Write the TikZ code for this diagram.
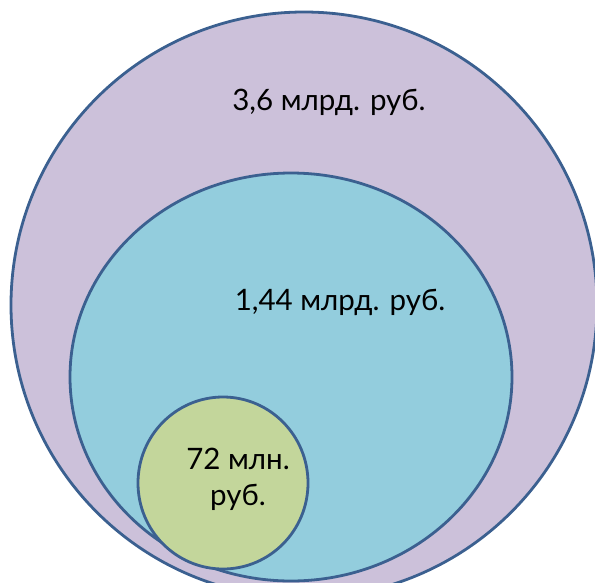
\documentclass[tikz,border=0pt]{standalone}
\usepackage{fontspec}
\setmainfont{Lato}
\usetikzlibrary{shapes.geometric}
\definecolor{outerfill}{HTML}{CCC1DA}
\definecolor{midfill}{HTML}{93CDDD}
\definecolor{innerfill}{HTML}{C3D69B}
\definecolor{rim}{HTML}{3B6090}
\tikzset{
  blob/.style={ellipse, draw=rim, line width=2.8pt, inner sep=0pt, outer sep=0pt},
  sum/.style={font=\fontsize{29.5}{36}\selectfont, text=black, inner sep=0pt, align=center}
}
\begin{document}
\begin{tikzpicture}[x=1pt,y=-1pt]
  \fill[white] (0,0) rectangle (595,582);
  \useasboundingbox (0,0) rectangle (595,582);
  \clip (0,0) rectangle (595,582);
  % nested sums
  \node[blob, fill=outerfill, minimum width=586pt, minimum height=586pt] (outer) at (304,305) {};
  \node[blob, fill=midfill, minimum width=442pt, minimum height=408pt] (mid) at (291,377) {};
  \node[blob, fill=innerfill, minimum width=170pt, minimum height=172pt] (inner) at (223,483) {};
  % labels
  \node[sum] (outerlabel) at (329,102) {3,6 млрд. руб.};
  \node[sum] (midlabel) at (340,302) {1,44 млрд. руб.};
  \node[sum] (innerlabel) at (238,479) {72 млн.\\ руб.};
\end{tikzpicture}
\end{document}
